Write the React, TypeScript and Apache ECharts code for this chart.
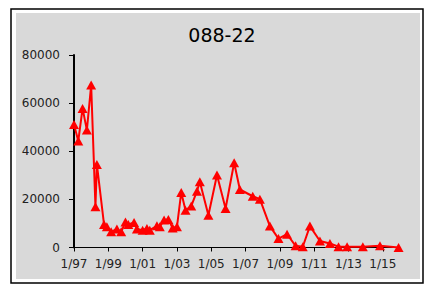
import React, { useEffect, useRef } from "react";
import * as echarts from "echarts";

const TITLE = "088-22";
const dates = [
  "1997-01", "1997-04", "1997-07", "1997-10", "1998-01", "1998-04", "1998-05", "1998-10",
  "1998-12", "1999-03", "1999-07", "1999-10", "2000-01", "2000-03", "2000-07", "2000-09",
  "2001-01", "2001-04", "2001-06", "2001-11", "2002-01", "2002-04", "2002-07", "2002-10",
  "2003-01", "2003-04", "2003-07", "2003-11", "2004-03", "2004-05", "2004-11", "2005-05",
  "2005-11", "2006-05", "2006-09", "2007-06", "2007-11", "2008-06", "2008-12", "2009-06",
  "2009-12", "2010-05", "2010-10", "2011-05", "2011-12", "2012-06", "2012-12", "2013-11",
  "2014-11", "2015-12",
];
const values = [
  51100, 44300, 57800, 48800, 67500, 16900, 34500, 9600,
  8600, 6500, 7700, 6500, 10600, 9600, 10400, 7700,
  7200, 7900, 7200, 9000, 8600, 11400, 11600, 8100,
  8600, 22900, 15500, 17200, 23400, 27300, 13400, 30100,
  16200, 35200, 24100, 21300, 20100, 8900, 3700, 5500,
  700, 300, 8900, 2700, 1700, 300, 300, 300,
  700, 0,
];
const START_YEAR = 1997;
const xTickYears = [0, 2, 4, 6, 8, 10, 12, 14, 16, 18];
const yTicks = [0, 20000, 40000, 60000, 80000];

function toOffset(d: string): number {
  const [y, m] = d.split("-").map(Number);
  return y - START_YEAR + (m - 1) / 12;
}

export default function App() {
  const ref = useRef<HTMLDivElement>(null);
  useEffect(() => {
    if (!ref.current) return;
    const chart = echarts.init(ref.current, null, { renderer: "svg" });
    const font = "DejaVu Sans";
    chart.setOption({
      animation: false,
      backgroundColor: "#ffffff",
      graphic: [
        {
          type: "rect",
          shape: { x: 11, y: 9, width: 412, height: 274 },
          style: { fill: "#ffffff", stroke: "#000000", lineWidth: 1.5 },
          z: -10,
        },
        {
          type: "rect",
          shape: { x: 16, y: 13, width: 404, height: 266 },
          style: { fill: "#d9d9d9" },
          z: -9,
        },
      ],
      title: {
        text: TITLE,
        left: 217,
        top: 20,
        textAlign: "center",
        textStyle: { fontFamily: font, fontSize: 19, fontWeight: "normal", color: "#000" },
      },
      grid: { left: 74, right: 25, top: 55, bottom: 37.5, containLabel: false },
      xAxis: {
        type: "value",
        min: 0,
        max: 19,
        interval: 2,
        splitLine: { show: false },
        axisLine: { show: true, onZero: false, lineStyle: { color: "#000", width: 1 } },
        axisTick: { show: true, length: 4, customValues: xTickYears, lineStyle: { color: "#000", width: 1 } },
        axisLabel: {
          customValues: xTickYears,
          margin: 10,
          fontFamily: font,
          fontSize: 12,
          color: "#222",
          formatter: (v: number) => "1/" + String((START_YEAR + Math.round(v)) % 100).padStart(2, "0"),
        },
      },
      yAxis: {
        type: "value",
        min: 0,
        max: 80000,
        interval: 20000,
        splitLine: { show: false },
        axisLine: { show: true, lineStyle: { color: "#000", width: 2 } },
        axisTick: { show: true, length: 5, customValues: yTicks, lineStyle: { color: "#000", width: 1 } },
        axisLabel: {
          margin: 14,
          fontFamily: font,
          fontSize: 12,
          color: "#222",
          customValues: yTicks,
          formatter: (v: number) => String(v),
        },
      },
      series: [
        {
          type: "line",
          data: dates.map((d, i) => [toOffset(d), values[i]]),
          symbol: "triangle",
          symbolSize: [10, 9],
          showAllSymbol: true,
          lineStyle: { color: "#ff0000", width: 2 },
          itemStyle: { color: "#ff0000" },
          z: 3,
        },
      ],
    });
    return () => chart.dispose();
  }, []);
  return <div ref={ref} style={{ position: "fixed", left: 0, top: 0, width: 425, height: 285 }} />;
}
